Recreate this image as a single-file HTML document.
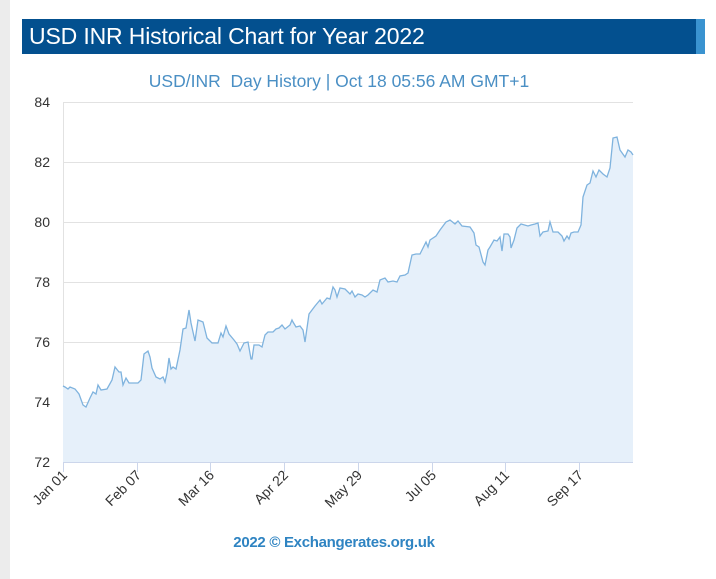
<!DOCTYPE html>
<html><head><style>
body{margin:0;width:716px;height:579px;background:#fff;position:relative;overflow:hidden;font-family:"Liberation Sans",sans-serif}
.strip{position:absolute;left:0;top:0;width:10px;height:579px;background:#ececec}
.hdr{position:absolute;left:22px;top:19px;width:674px;height:35px;background:#03508f;color:#fff;font-size:23px;line-height:35px;padding-left:7px;box-sizing:border-box;letter-spacing:-0.15px}
.hdr2{position:absolute;left:696px;top:19px;width:9px;height:35px;background:#3a93d0}
</style></head><body>
<div class="strip"></div>
<div class="hdr">USD INR Historical Chart for Year 2022</div><div class="hdr2"></div>
<svg width="716" height="579" style="position:absolute;left:0;top:0" font-family="Liberation Sans, sans-serif">
<text x="339" y="87" text-anchor="middle" font-size="17.5" fill="#4a8fc4">USD/INR&#160; Day History | Oct 18 05:56 AM GMT+1</text>
<g stroke="#e2e2e2" stroke-width="1">
<line x1="63" y1="102.5" x2="633" y2="102.5"/><line x1="63" y1="162.5" x2="633" y2="162.5"/><line x1="63" y1="222.5" x2="633" y2="222.5"/><line x1="63" y1="282.5" x2="633" y2="282.5"/><line x1="63" y1="342.5" x2="633" y2="342.5"/><line x1="63" y1="402.5" x2="633" y2="402.5"/>
<line x1="63.5" y1="102" x2="63.5" y2="462"/>
</g>
<g font-size="14" fill="#333" text-anchor="end">
<text x="50" y="107">84</text><text x="50" y="167">82</text><text x="50" y="227">80</text><text x="50" y="287">78</text><text x="50" y="347">76</text><text x="50" y="407">74</text><text x="50" y="467">72</text>
</g>
<polygon fill="#e6f0fa" points="63,462 63,386 65,387 68,389 70,387 75,389 79,394 83,405 86,407 90,398 93,392 96,394 98,385 101,390 107,389 112,380 115,367 119,372 121,372 123,385 126,378 129,383 138,383 141,380 144,354 148,351 150,357 152,368 156,377 160,379 163,377 165,382 167,373 169,358 171,369 173,367 176,369 180,350 183,329 186,328 189,310 191,323 195,341 198,320 203,322 207,338 212,343 218,343 221,333 223,337 226,326 229,334 234,340 237,344 240,351 244,343 248,342 251,359 252,359 254,345 259,345 262,347 265,335 268,332 273,332 276,329 279,328 282,325 285,329 290,325 292,320 293,322 296,327 300,326 303,330 305,342 309,314 315,306 320,300 322,304 327,298 330,299 333,287 335,290 337,297 340,288 345,289 350,294 352,291 355,297 358,294 362,295 365,297 368,295 373,290 377,292 380,280 385,278 388,282 393,281 397,282 400,276 405,275 408,273 412,255 416,254 420,254 426,242 428,247 430,240 436,236 440,230 446,222 450,220 455,224 458,221 462,226 470,227 474,233 476,245 479,247 483,262 485,265 488,250 490,247 494,240 497,241 500,237 502,251 504,234 508,234 510,237 511,248 514,240 517,228 521,224 528,226 531,225 535,224 538,223 540,236 543,232 548,231 550,222 553,232 558,232 562,236 564,241 567,236 569,239 571,233 574,232 578,232 581,225 583,197 587,185 590,183 593,171 596,177 599,170 603,174 607,177 610,168 613,138 617,137 620,150 625,157 628,150 631,152 633,155 633,462"/>
<polyline fill="none" stroke="#7fb3de" stroke-width="1.3" points="63,386 65,387 68,389 70,387 75,389 79,394 83,405 86,407 90,398 93,392 96,394 98,385 101,390 107,389 112,380 115,367 119,372 121,372 123,385 126,378 129,383 138,383 141,380 144,354 148,351 150,357 152,368 156,377 160,379 163,377 165,382 167,373 169,358 171,369 173,367 176,369 180,350 183,329 186,328 189,310 191,323 195,341 198,320 203,322 207,338 212,343 218,343 221,333 223,337 226,326 229,334 234,340 237,344 240,351 244,343 248,342 251,359 252,359 254,345 259,345 262,347 265,335 268,332 273,332 276,329 279,328 282,325 285,329 290,325 292,320 293,322 296,327 300,326 303,330 305,342 309,314 315,306 320,300 322,304 327,298 330,299 333,287 335,290 337,297 340,288 345,289 350,294 352,291 355,297 358,294 362,295 365,297 368,295 373,290 377,292 380,280 385,278 388,282 393,281 397,282 400,276 405,275 408,273 412,255 416,254 420,254 426,242 428,247 430,240 436,236 440,230 446,222 450,220 455,224 458,221 462,226 470,227 474,233 476,245 479,247 483,262 485,265 488,250 490,247 494,240 497,241 500,237 502,251 504,234 508,234 510,237 511,248 514,240 517,228 521,224 528,226 531,225 535,224 538,223 540,236 543,232 548,231 550,222 553,232 558,232 562,236 564,241 567,236 569,239 571,233 574,232 578,232 581,225 583,197 587,185 590,183 593,171 596,177 599,170 603,174 607,177 610,168 613,138 617,137 620,150 625,157 628,150 631,152 633,155"/>
<line x1="63" y1="462.5" x2="633" y2="462.5" stroke="#ccd6eb"/>
<g stroke="#ccd6eb"><line x1="63.5" y1="462" x2="63.5" y2="472"/><line x1="137.5" y1="462" x2="137.5" y2="472"/><line x1="210.5" y1="462" x2="210.5" y2="472"/><line x1="284.5" y1="462" x2="284.5" y2="472"/><line x1="358.5" y1="462" x2="358.5" y2="472"/><line x1="432.5" y1="462" x2="432.5" y2="472"/><line x1="505.5" y1="462" x2="505.5" y2="472"/><line x1="579.5" y1="462" x2="579.5" y2="472"/></g>
<g font-size="14" fill="#333" text-anchor="end">
<text transform="translate(68,476) rotate(-45)">Jan 01</text>
<text transform="translate(142,476) rotate(-45)">Feb 07</text>
<text transform="translate(215,476) rotate(-45)">Mar 16</text>
<text transform="translate(289,476) rotate(-45)">Apr 22</text>
<text transform="translate(363,476) rotate(-45)">May 29</text>
<text transform="translate(437,476) rotate(-45)">Jul 05</text>
<text transform="translate(510,476) rotate(-45)">Aug 11</text>
<text transform="translate(584,476) rotate(-45)">Sep 17</text>
</g>
<text x="334" y="547" text-anchor="middle" font-size="15" font-weight="bold" fill="#2f84c2" letter-spacing="-0.3">2022 © Exchangerates.org.uk</text>
</svg>
</body></html>
